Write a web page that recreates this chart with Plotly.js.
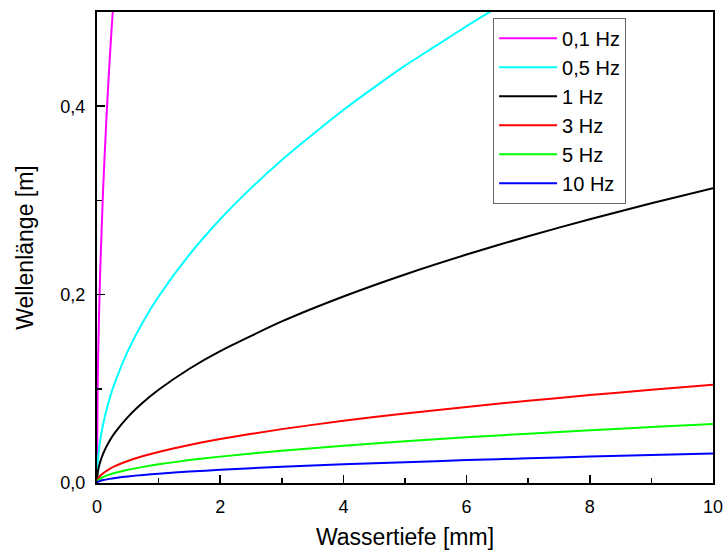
<!DOCTYPE html>
<html>
<head>
<meta charset="utf-8">
<script src="https://cdn.plot.ly/plotly-3.0.1.min.js"></script>
<style>html,body{margin:0;padding:0;background:#fff;}</style>
</head>
<body>
<div id="chart" style="width:726px;height:550px;"></div>
<script>
// Wassertiefe [mm] sample points and read-off wavelengths [m]
const depth01 = [0, 0.01, 0.02, 0.05, 0.1, 0.15, 0.2, 0.25, 0.3];
const lambda01 = [0, 0.099, 0.14, 0.221, 0.313, 0.383, 0.443, 0.495, 0.542];

const depth05 = [0, 0.01, 0.02, 0.05, 0.1, 0.2, 0.3, 0.5, 0.75, 1, 1.5, 2, 2.5, 3, 3.5, 4, 4.5, 5, 5.5, 6, 6.5];
const lambda05 = [0, 0.0198, 0.028, 0.0443, 0.0626, 0.0885, 0.1084, 0.14, 0.1715, 0.198, 0.2425, 0.28, 0.313, 0.343, 0.370, 0.396, 0.42, 0.443, 0.464, 0.485, 0.505];

const depth = [0, 0.01, 0.02, 0.05, 0.1, 0.2, 0.3, 0.5, 0.75, 1, 1.5, 2, 3, 4, 5, 6, 7, 8, 9, 10];
const lambda1 = [0, 0.0099, 0.014, 0.0221, 0.0313, 0.0443, 0.0542, 0.070, 0.0857, 0.099, 0.1213, 0.140, 0.1715, 0.198, 0.2214, 0.2425, 0.262, 0.280, 0.297, 0.313];
const lambda3 = [0, 0.0033, 0.0047, 0.0074, 0.0104, 0.0148, 0.0181, 0.0233, 0.0286, 0.033, 0.0404, 0.0467, 0.0572, 0.066, 0.0738, 0.0808, 0.0873, 0.0933, 0.099, 0.1043];
const lambda5 = [0, 0.002, 0.0028, 0.0044, 0.0063, 0.0089, 0.0108, 0.014, 0.0171, 0.0198, 0.0243, 0.028, 0.0343, 0.0396, 0.0443, 0.0485, 0.0524, 0.056, 0.0594, 0.0626];
const lambda10 = [0, 0.001, 0.0014, 0.0022, 0.0031, 0.0044, 0.0054, 0.007, 0.0086, 0.0099, 0.0121, 0.014, 0.0172, 0.0198, 0.0221, 0.0243, 0.0262, 0.028, 0.0297, 0.0313];

const names = ['0,1 Hz', '0,5 Hz', '1 Hz', '3 Hz', '5 Hz', '10 Hz'];
const colors = ['#ff00ff', '#00ffff', '#000000', '#ff0000', '#00ff00', '#0000ff'];

const xs = [depth01, depth05, depth, depth, depth, depth];
const ys = [lambda01, lambda05, lambda1, lambda3, lambda5, lambda10];

const traces = names.map((n, i) => ({
  x: xs[i], y: ys[i], name: n, type: 'scatter', mode: 'lines',
  line: {color: colors[i], width: 2, shape: 'spline', smoothing: 0.6}
}));

const fontFam = '"Liberation Sans", Arial, sans-serif';
const layout = {
  width: 726, height: 550,
  margin: {l: 97, r: 13, t: 12, b: 67},
  paper_bgcolor: '#fff', plot_bgcolor: '#fff',
  separators: ',.',
  font: {family: fontFam, color: '#000'},
  showlegend: true,
  legend: {
    x: 0.643, y: 0.988, xanchor: 'left', yanchor: 'top',
    bgcolor: '#fff', bordercolor: '#666', borderwidth: 1,
    font: {family: fontFam, size: 20, color: '#000'},
    itemwidth: 58,
    tracegroupgap: 0
  },
  xaxis: {
    range: [0, 10], tickvals: [0, 2, 4, 6, 8, 10], ticktext: ['0', '2', '4', '6', '8', '10'],
    ticks: 'inside', ticklen: 8, tickwidth: 1.5, tickcolor: '#000',
    minor: {ticks: 'inside', ticklen: 5, tickwidth: 1.5, tickcolor: '#000', tickvals: [1, 3, 5, 7, 9]},
    showline: true, linewidth: 2, linecolor: '#000', mirror: true,
    showgrid: false, zeroline: false,
    tickfont: {size: 18, family: fontFam},
    ticklabelstandoff: 6,
    title: {text: 'Wassertiefe [mm]', font: {size: 23, family: fontFam}, standoff: 14}
  },
  yaxis: {
    range: [0, 0.5], tickvals: [0, 0.2, 0.4], ticktext: ['0,0', '0,2', '0,4'],
    ticks: 'inside', ticklen: 8, tickwidth: 1.5, tickcolor: '#000',
    minor: {ticks: 'inside', ticklen: 5, tickwidth: 1.5, tickcolor: '#000', tickvals: [0.1, 0.3]},
    showline: true, linewidth: 2, linecolor: '#000', mirror: true,
    showgrid: false, zeroline: false,
    tickfont: {size: 18, family: fontFam},
    ticklabelstandoff: 6,
    title: {text: 'Wellenlänge [m]', font: {size: 23, family: fontFam}, standoff: 20}
  }
};

Plotly.newPlot('chart', traces, layout, {displayModeBar: false, staticPlot: true});
</script>
</body>
</html>
